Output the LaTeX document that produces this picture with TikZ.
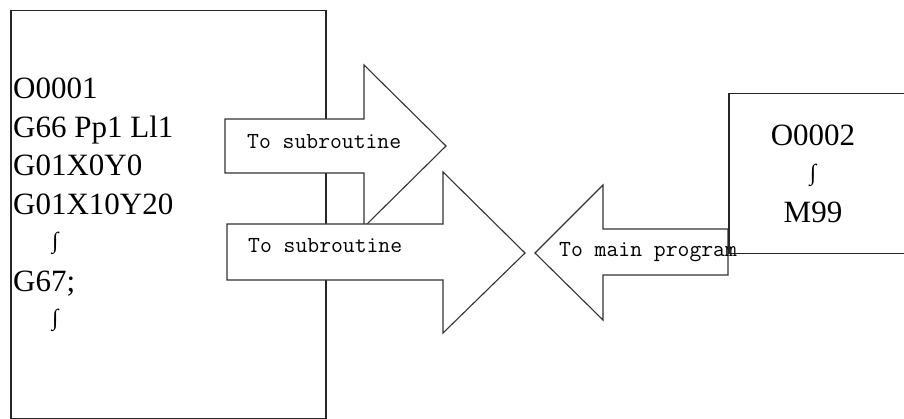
\documentclass[tikz,border=0pt]{standalone}
\usepackage{fontspec}
\setmainfont{Liberation Serif}
\usetikzlibrary{positioning}
\newcommand{\skipmark}{\raisebox{4pt}{\fontsize{23}{23}\selectfont ∫}}

\begin{document}
\begin{tikzpicture}[
  x=1pt, y=-1pt,
  box/.style={draw=black!85, line width=1.5pt, inner sep=0pt},
  prog/.style={inner sep=0pt, font=\fontsize{31}{38.5}\selectfont},
  blockarrow/.style={draw=black!80, line width=1.1pt, fill=white, line join=miter},
  armtext/.style={inner sep=0pt, anchor=base west, font=\ttfamily\fontsize{23}{26}\selectfont}
]
\clip (0,0) rectangle (904,419);

% main program
\node[box, anchor=north west, minimum width=315pt, minimum height=408pt] (main) at (10,10) {};
\node[prog, anchor=north west, align=left] (mainlist) at (13,78)
  {O0001\\G66 Pp1 Ll1\\G01X0Y0\\G01X10Y20\\\hspace*{39pt}\skipmark\\G67;\\\hspace*{39pt}\skipmark};

% calls to the subroutine
\draw[blockarrow] (225,119) -- (364,119) -- (364,65) -- (446,146) -- (364,227)
  -- (364,173) -- (225,173) -- cycle;
\node[armtext] (call1) at (247,149) {To subroutine};
\draw[blockarrow] (227,224) -- (443,224) -- (443,172) -- (525,253) -- (443,333)
  -- (443,280) -- (227,280) -- cycle;
\node[armtext] (call2) at (248,253) {To subroutine};

% return
\draw[blockarrow] (728,229) -- (603,229) -- (603,185) -- (535,253) -- (603,320)
  -- (603,275) -- (728,275) -- cycle;
\node[armtext] (ret) at (559,257) {To main program};

% subroutine
\node[box, anchor=north west, minimum width=200pt, minimum height=160pt] (sub) at (728,93) {};
\node[prog, anchor=north, align=center] (sublist) at (813,125) {O0002\\\skipmark\\M99};
\end{tikzpicture}
\end{document}
